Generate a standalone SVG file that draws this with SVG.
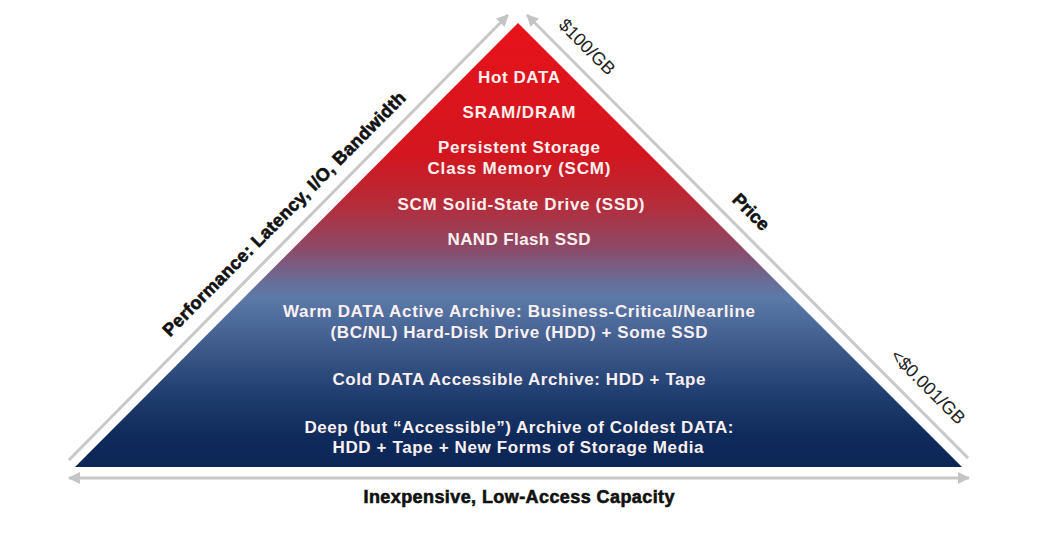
<svg xmlns="http://www.w3.org/2000/svg" width="1040" height="544" viewBox="0 0 1040 544">
  <defs>
    <linearGradient id="pyr" gradientUnits="userSpaceOnUse" x1="0" y1="22" x2="0" y2="467">
      <stop offset="0" stop-color="#e8121a"/>
      <stop offset="0.30" stop-color="#d2161f"/>
      <stop offset="0.41" stop-color="#b52c3a"/>
      <stop offset="0.51" stop-color="#8c4a68"/>
      <stop offset="0.58" stop-color="#6a6c96"/>
      <stop offset="0.62" stop-color="#5b7aa8"/>
      <stop offset="0.72" stop-color="#405d8e"/>
      <stop offset="0.84" stop-color="#1f3d6e"/>
      <stop offset="0.93" stop-color="#0f2b5b"/>
      <stop offset="1" stop-color="#0c2656"/>
    </linearGradient>
    <marker id="arr" markerUnits="userSpaceOnUse" markerWidth="12" markerHeight="12" refX="11" refY="6" orient="auto">
      <path d="M0,0 L12,6 L0,12 z" fill="#c4c4c4"/>
    </marker>
    <style>
      .axis { stroke: #c8c8c8; stroke-width: 3; fill: none; }
      .tier { font-family: "Liberation Sans", Arial, sans-serif; font-weight: 700; font-size: 17px; fill: #fbf0f0; text-anchor: middle; }
      .lab { font-family: "Liberation Sans", Arial, sans-serif; font-weight: 700; font-size: 18px; fill: #111; stroke: #111; stroke-width: 0.6; text-anchor: middle; }
      .price { font-family: "Liberation Sans", Arial, sans-serif; font-weight: 400; font-size: 18px; fill: #222; text-anchor: middle; }
    </style>
  </defs>
  <rect width="1040" height="544" fill="#ffffff"/>

  <g id="pyramid">
    <polygon points="518,23 962,467 75,467" fill="url(#pyr)"/>
  </g>

  <g id="connectors">
    <line class="axis" x1="69" y1="460" x2="508" y2="15" marker-end="url(#arr)"/>
    <line class="axis" x1="968" y1="458" x2="527" y2="15" marker-end="url(#arr)"/>
    <line class="axis" x1="520" y1="478" x2="69" y2="478" marker-end="url(#arr)"/>
    <line class="axis" x1="520" y1="478" x2="969" y2="478" marker-end="url(#arr)"/>
  </g>

  <g id="tier-hot">
    <text class="tier" x="519" y="83" textLength="82">Hot DATA</text>
  </g>
  <g id="tier-sram">
    <text class="tier" x="519" y="118" textLength="113">SRAM/DRAM</text>
  </g>
  <g id="tier-scm">
    <text class="tier" x="519" y="153" textLength="162">Persistent Storage</text>
    <text class="tier" x="519" y="174" textLength="183">Class Memory (SCM)</text>
  </g>
  <g id="tier-scm-ssd">
    <text class="tier" x="521" y="210" textLength="247">SCM Solid-State Drive (SSD)</text>
  </g>
  <g id="tier-nand">
    <text class="tier" x="519" y="245" textLength="143">NAND Flash SSD</text>
  </g>
  <g id="tier-warm">
    <text class="tier" x="519" y="317" textLength="472">Warm DATA Active Archive: Business-Critical/Nearline</text>
    <text class="tier" x="519" y="338" textLength="377">(BC/NL) Hard-Disk Drive (HDD) + Some SSD</text>
  </g>
  <g id="tier-cold">
    <text class="tier" x="519" y="385" textLength="373">Cold DATA Accessible Archive: HDD + Tape</text>
  </g>
  <g id="tier-deep">
    <text class="tier" x="519" y="433" textLength="429">Deep (but “Accessible”) Archive of Coldest DATA:</text>
    <text class="tier" x="518" y="453" textLength="371">HDD + Tape + New Forms of Storage Media</text>
  </g>

  <g id="label-performance">
    <text class="lab" transform="translate(284,214) rotate(-45.2)" x="0" y="6" textLength="336">Performance: Latency, I/O, Bandwidth</text>
  </g>
  <g id="label-price">
    <text class="lab" transform="translate(751,212) rotate(45)" x="0" y="6">Price</text>
  </g>
  <g id="label-high-price">
    <text class="price" transform="translate(587,47) rotate(45)" x="0" y="6">$100/GB</text>
  </g>
  <g id="label-low-price">
    <text class="price" transform="translate(928,387) rotate(45)" x="0" y="6">&lt;$0.001/GB</text>
  </g>
  <g id="label-capacity">
    <text class="lab" x="519" y="503" textLength="311" font-size="17">Inexpensive, Low-Access Capacity</text>
  </g>
</svg>
